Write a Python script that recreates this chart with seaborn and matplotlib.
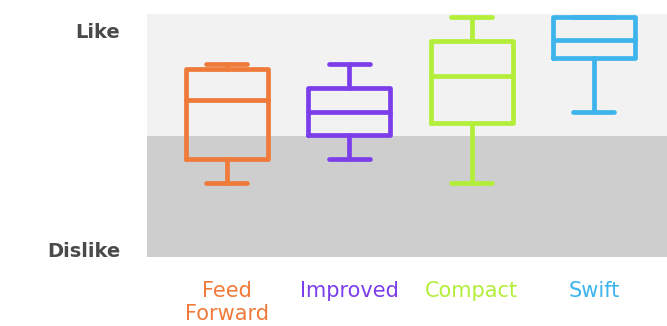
import pandas as pd
import matplotlib
matplotlib.use("Agg")
import matplotlib.pyplot as plt
import seaborn as sns

# Данные: min, Q1, медиана, Q3, max для каждой модели
categories = ["Feed\nForward", "Improved", "Compact", "Swift"]
feed_forward = [0.305, 0.402, 0.646, 0.774, 0.793]
improved = [0.402, 0.502, 0.598, 0.694, 0.793]
compact = [0.305, 0.550, 0.745, 0.890, 0.989]
swift = [0.598, 0.818, 0.893, 0.989, 0.989]
colors = ["#F07A3A", "#7C3EEB", "#B3EE3A", "#3DB4EC"]
ytick_pos = [0.934, 0.031]
ytick_labels = ["Like", "Dislike"]

rows = []
for cat, vals in zip(categories, [feed_forward, improved, compact, swift]):
    for v in vals:
        rows.append({"model": cat, "score": v})
df = pd.DataFrame(rows)

fig = plt.figure(figsize=(6.67, 3.26), dpi=100)
ax = fig.add_axes([0.22, 0.2117, 0.78, 0.7453])

# Фон: две полосы
ax.axhspan(0, 0.5, color="#CECECE", zorder=0, lw=0)
ax.axhspan(0.5, 1, color="#F2F2F2", zorder=0, lw=0)

sns.boxplot(data=df, x="model", y="score", hue="model", palette=colors,
            order=categories, hue_order=categories, fill=False, width=0.67,
            whis=(0, 100), linewidth=3.4, legend=False, ax=ax)

for line in ax.lines:
    line.set_solid_capstyle("round")
    line.set_solid_joinstyle("round")
    line.set_zorder(3)

ax.set_ylim(0, 1)
ax.set_xlim(-0.654, 3.597)
for s in ax.spines.values():
    s.set_visible(False)
ax.set_xlabel("")
ax.set_ylabel("")
ax.set_yticks(ytick_pos)
ax.set_yticklabels(ytick_labels, fontsize=14, fontweight="bold", color="#4A4A4A")
ax.tick_params(axis="y", length=0, pad=19)
ax.tick_params(axis="x", length=0, pad=17)
ax.set_xticks(range(len(categories)))
ax.set_xticklabels(categories, fontsize=15)
for lbl, c in zip(ax.get_xticklabels(), colors):
    lbl.set_color(c)

fig.savefig("out.png", dpi=100)
